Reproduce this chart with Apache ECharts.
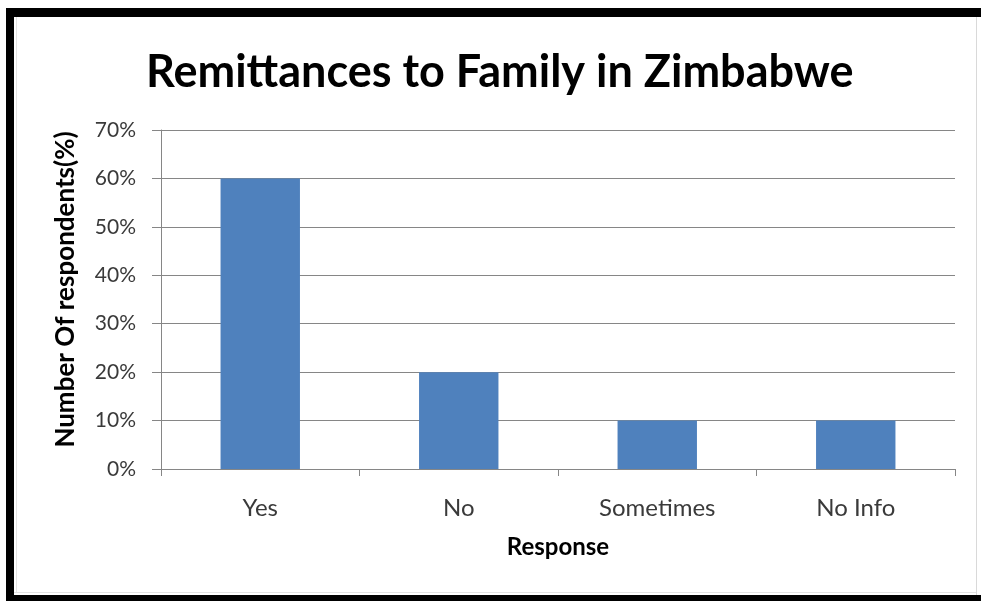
<!DOCTYPE html>
<html>
<head>
<meta charset="utf-8">
<title>Remittances to Family in Zimbabwe</title>
<script src="https://cdn.jsdelivr.net/npm/echarts@6/dist/echarts.min.js"></script>
<style>
  html, body { margin: 0; padding: 0; background: #ffffff; }
  #chart { width: 981px; height: 601px; }
</style>
</head>
<body>
<div id="chart"></div>
<script>
// Survey responses and share of respondents (%)
const categories = ['Yes', 'No', 'Sometimes', 'No Info'];
const shares = [60, 20, 10, 10];
const yTicks = [0, 10, 20, 30, 40, 50, 60, 70];

const titleText = 'Remittances to Family in Zimbabwe';
const xAxisTitle = 'Response';
const yAxisTitle = 'Number Of respondents(%)';

const FONT = 'Lato, "Liberation Sans", sans-serif';

const chart = echarts.init(document.getElementById('chart'), null, { renderer: 'canvas' });

chart.setOption({
  backgroundColor: '#ffffff',
  animation: false,
  title: {
    text: titleText,
    left: 141,
    top: 45,
    textStyle: { fontFamily: FONT, fontWeight: 'bold', fontSize: 45, color: '#000000' }
  },
  grid: { left: 161, right: 26, top: 130, bottom: 132, containLabel: false },
  xAxis: {
    type: 'category',
    data: categories,
    name: xAxisTitle,
    nameLocation: 'middle',
    nameGap: 66,
    nameTextStyle: { fontFamily: FONT, fontSize: 24, fontWeight: 'bold', color: '#000000' },
    axisLine: { show: true, lineStyle: { color: '#868686', width: 1 } },
    axisTick: { show: true, alignWithLabel: false, length: 7, lineStyle: { color: '#868686' } },
    axisLabel: { margin: 27, fontFamily: FONT, fontSize: 24, color: '#3a3a3a' }
  },
  yAxis: {
    type: 'value',
    min: 0,
    max: 70,
    interval: 10,
    name: yAxisTitle,
    nameLocation: 'middle',
    nameGap: 82,
    nameRotate: 90,
    nameTextStyle: { fontFamily: FONT, fontSize: 26, fontWeight: 'bold', color: '#000000', padding: [0, 0, 0, 20] },
    axisLine: { show: true, lineStyle: { color: '#868686', width: 1 } },
    axisTick: { show: true, length: 9, lineStyle: { color: '#868686' } },
    axisLabel: {
      margin: 25,
      fontFamily: FONT,
      fontSize: 21,
      color: '#3a3a3a',
      formatter: function (v) { return yTicks.indexOf(v) >= 0 ? v + '%' : ''; }
    },
    splitLine: { show: true, lineStyle: { color: '#868686', width: 1 } }
  },
  series: [{
    type: 'bar',
    data: shares,
    barWidth: '40%',
    itemStyle: { color: '#4F81BD' }
  }],
  graphic: [
    // heavy black frame around the chart area, with a thin grey inner edge
    { type: 'rect', shape: { x: 6, y: 8, width: 975, height: 9 }, style: { fill: '#000000' }, silent: true },
    { type: 'rect', shape: { x: 6, y: 8, width: 8, height: 593 }, style: { fill: '#000000' }, silent: true },
    { type: 'rect', shape: { x: 6, y: 595, width: 975, height: 6 }, style: { fill: '#000000' }, silent: true },
    { type: 'line', shape: { x1: 976.5, y1: 17, x2: 976.5, y2: 595 }, style: { stroke: '#d9d9d9', lineWidth: 1 }, silent: true },
    { type: 'line', shape: { x1: 16.5, y1: 17, x2: 16.5, y2: 593 }, style: { stroke: '#e3e3e3', lineWidth: 1 }, silent: true },
    { type: 'line', shape: { x1: 14, y1: 592.5, x2: 976, y2: 592.5 }, style: { stroke: '#e3e3e3', lineWidth: 1 }, silent: true }
  ]
});
</script>
</body>
</html>
